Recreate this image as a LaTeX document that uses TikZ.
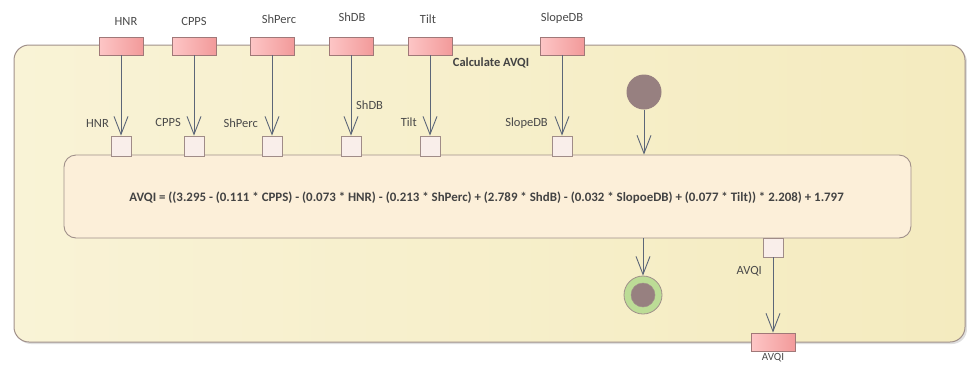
\documentclass[tikz,border=0pt]{standalone}
\usepackage{fontspec}
\setmainfont{Carlito}
\usetikzlibrary{arrows.meta,shadows}
\definecolor{framebd}{HTML}{A0908A}
\definecolor{frameL}{HTML}{F9F3D6}
\definecolor{frameR}{HTML}{F4EBBF}
\definecolor{actfill}{HTML}{FCEFD9}
\definecolor{actbd}{HTML}{A0908A}
\definecolor{pinfill}{HTML}{F9EEEA}
\definecolor{pinbd}{HTML}{A08C88}
\definecolor{parL}{HTML}{FDC6C6}
\definecolor{parR}{HTML}{F29A9A}
\definecolor{parbd}{HTML}{A07878}
\definecolor{flowc}{HTML}{5C6678}
\definecolor{txt}{HTML}{4A4A4A}
\definecolor{nodec}{HTML}{978080}
\definecolor{finalg}{HTML}{BCDC96}
\tikzset{
  frame/.style={draw=framebd, line width=1pt, rounded corners=15pt, left color=frameL, right color=frameR, inner sep=0pt, drop shadow={shadow xshift=2pt, shadow yshift=-2pt, opacity=0.25}},
  action/.style={draw=actbd, line width=0.9pt, rounded corners=12pt, fill=actfill, inner sep=0pt},
  pinbox/.style={draw=pinbd, line width=0.8pt, fill=pinfill, minimum width=20pt, minimum height=20pt, inner sep=0pt},
  param/.style={draw=parbd, line width=0.9pt, left color=parL, right color=parR, minimum width=44pt, minimum height=18pt, inner sep=0pt},
  lbl/.style={text=txt, font=\fontsize{12.5}{14}\selectfont, inner sep=0pt},
  flow/.style={draw=flowc, line width=0.9pt, -{Straight Barb[length=18pt,width=14pt,line width=0.9pt]}},
}
\begin{document}
\begin{tikzpicture}[x=1pt,y=-1pt]
\useasboundingbox (0,0) rectangle (967,365);
% frame
\node[frame, minimum width=951pt, minimum height=297pt] (frame) at (489.5,193.5) {};
\node[lbl, font=\bfseries\fontsize{12.5}{14}\selectfont, text=txt!90!black] (title) at (491,63) {Calculate AVQI};
% action
\node[action, minimum width=847pt, minimum height=83pt] (calc) at (487.5,196.5) {};
\node[text=txt!90!black, font=\bfseries\fontsize{12.9}{14}\selectfont, inner sep=0pt] (formula) at (486.5,198) {AVQI = ((3.295 - (0.111 * CPPS) - (0.073 * HNR) - (0.213 * ShPerc) + (2.789 * ShdB) - (0.032 * SlopoeDB) + (0.077 * Tilt)) * 2.208) + 1.797};
% input parameters
\foreach \n/\x/\lx/\ly in {HNR/121/126/21, CPPS/194/194/21, ShPerc/272/279/19, ShDB/351/352/17, Tilt/430/428/19, SlopeDB/562/562/18}{
  \node[param] (p\n) at (\x,46) {};
  \node[lbl] (pl\n) at (\lx,\ly) {\n};
  \node[pinbox] (i\n) at (\x,146) {};
  \draw[flow] (p\n.south) -- (i\n.north);
}
% pin labels
\node[lbl, anchor=east] (lHNR) at (109,123) {HNR};
\node[lbl, anchor=east] (lCPPS) at (181,122) {CPPS};
\node[lbl, anchor=east] (lShPerc) at (258,123) {ShPerc};
\node[lbl, anchor=west] (lShDB) at (356,105) {ShDB};
\node[lbl, anchor=east] (lTilt) at (417,122) {Tilt};
\node[lbl, anchor=east] (lSlopeDB) at (548,123) {SlopeDB};
% initial / final
\node[circle, fill=nodec, minimum size=35pt, inner sep=0pt] (init) at (644,92) {};
\draw[flow] (init.south) -- (init.south |- calc.north);
\node[circle, draw=framebd, line width=0.8pt, fill=finalg, minimum size=38pt, inner sep=0pt] (final) at (643,295) {};
\node[circle, draw=framebd, line width=0.5pt, fill=nodec, minimum size=24pt, inner sep=0pt] (finalin) at (643,295) {};
\coordinate (cb) at (643,238);
\draw[flow] (cb) -- (final.north);
% output
\node[pinbox, minimum height=19pt] (oAVQI) at (773,247.5) {};
\node[lbl, anchor=east] (lAVQI) at (762,271) {AVQI};
\node[param] (pAVQI) at (773,342) {};
\draw[flow] (oAVQI.south) -- (pAVQI.north);
\node[lbl, font=\fontsize{11}{12}\selectfont, anchor=base] (plAVQI) at (773,360.5) {AVQI};
\end{tikzpicture}
\end{document}
